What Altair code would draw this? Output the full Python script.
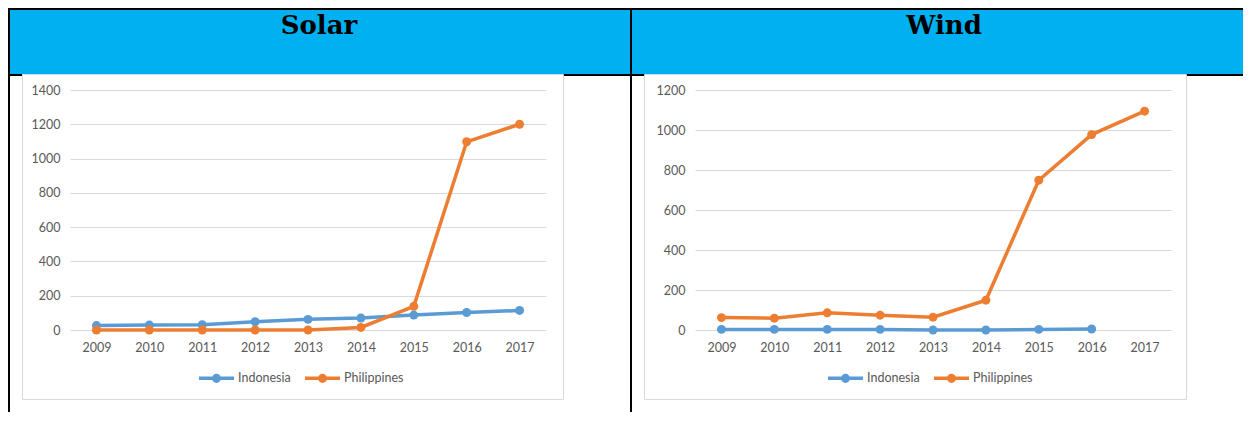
import altair as alt
import pandas as pd

# ---------------- data ----------------
years = ["2009", "2010", "2011", "2012", "2013", "2014", "2015", "2016", "2017"]
countries = ["Indonesia", "Philippines"]

solar_indonesia = [26, 29, 31, 48, 62, 70, 87, 102, 114]
solar_philippines = [0, 0, 0, 0, 0, 15, 138, 1098, 1200]

wind_years_indonesia = ["2009", "2010", "2011", "2012", "2013", "2014", "2015", "2016"]
wind_indonesia = [3, 3, 3, 3, 0, 0, 3, 5]
wind_philippines = [62, 59, 86, 74, 64, 149, 749, 977, 1094]

solar_ticks = [0, 200, 400, 600, 800, 1000, 1200, 1400]
wind_ticks = [0, 200, 400, 600, 800, 1000, 1200]

colors = ["#5B9BD5", "#ED7D31"]

solar_df = pd.DataFrame(
    {"year": years + years,
     "value": solar_indonesia + solar_philippines,
     "country": ["Indonesia"] * len(years) + ["Philippines"] * len(years)}
)
wind_df = pd.DataFrame(
    {"year": wind_years_indonesia + years,
     "value": wind_indonesia + wind_philippines,
     "country": ["Indonesia"] * len(wind_years_indonesia) + ["Philippines"] * len(years)}
)

# ---------------- layout constants ----------------
PW, PH = 476, 240
SPACING = 149
ORIGIN1 = (70, 90)
ORIGIN2 = (70 + PW + SPACING, 90)

FONT = "Lato"
TXT = "#595959"
GRID = "#D9D9D9"
HEADER = "#00B0F0"

# legend symbol: a stroked line with a dot (dot built from stroked circles)
LEG_PATH = ("M-1,0 H1 "
            "M-0.1,0 A0.1,0.1 0 1,1 0.1,0 A0.1,0.1 0 1,1 -0.1,0 "
            "M-0.16,0 A0.16,0.16 0 1,1 0.16,0 A0.16,0.16 0 1,1 -0.16,0")

one = alt.Data(values=[{"a": 1}])


def rect(origin, x1, x2, y1, y2, fill=None, stroke=None):
    ox, oy = origin
    kw = {}
    if fill is not None:
        kw["fill"] = fill
    else:
        kw["fillOpacity"] = 0
        kw["fill"] = "white"
    if stroke is not None:
        kw["stroke"] = stroke
        kw["strokeWidth"] = 1
    return alt.Chart(one).mark_rect(**kw).encode(
        x=alt.value(x1 - ox), x2=alt.value(x2 - ox),
        y=alt.value(y1 - oy), y2=alt.value(y2 - oy),
    )


def title(origin, cx, by, text):
    ox, oy = origin
    return alt.Chart(one).mark_text(
        font="DejaVu Serif", fontWeight="bold", fontSize=26,
        align="center", baseline="alphabetic", color="black",
    ).encode(x=alt.value(cx - ox), y=alt.value(by - oy), text=alt.value(text))


def panel(df, ticks, origin, legend_x, decorations):
    x = alt.X("year:O", title=None,
              scale=alt.Scale(type="point", padding=0.5, domain=years),
              axis=alt.Axis(labelAngle=0, ticks=False, tickSize=0, domain=False,
                            grid=False, labelFont=FONT, labelFontSize=12.5,
                            labelColor=TXT, labelPadding=11))
    y = alt.Y("value:Q", title=None,
              scale=alt.Scale(domain=[ticks[0], ticks[-1]], nice=False),
              axis=alt.Axis(values=ticks, format="d", ticks=False, tickSize=0,
                            domain=False, grid=True, gridColor=GRID, gridWidth=1,
                            labelFont=FONT, labelFontSize=12.5, labelColor=TXT,
                            labelPadding=10))
    cscale = alt.Scale(domain=countries, range=colors)
    leg = alt.Legend(orient="none", legendX=legend_x, legendY=268.5,
                     direction="horizontal", title=None,
                     symbolType=LEG_PATH, symbolSize=1225,
                     symbolStrokeWidth=3.5, symbolOpacity=1,
                     labelFont=FONT, labelFontSize=12.5, labelColor=TXT,
                     labelOffset=2, columnPadding=7, padding=0)
    base = alt.Chart(df)
    lines = base.mark_line(strokeWidth=3.5).encode(
        x=x, y=y, color=alt.Color("country:N", scale=cscale, legend=leg),
    )
    pts = base.mark_circle(size=80, opacity=1).encode(
        x=x, y=y, color=alt.Color("country:N", scale=cscale, legend=leg),
    )
    return alt.layer(*decorations, lines, pts).properties(width=PW, height=PH)


deco1 = [
    rect(ORIGIN1, 10, 630, 10, 74, fill=HEADER),
    rect(ORIGIN1, 8, 632, 8, 10, fill="black"),
    rect(ORIGIN1, 8, 10, 8, 412, fill="black"),
    rect(ORIGIN1, 630, 632, 8, 412, fill="black"),
    rect(ORIGIN1, 8, 22, 74, 76, fill="black"),
    rect(ORIGIN1, 563, 632, 74, 76, fill="black"),
    rect(ORIGIN1, 22.5, 563.5, 74.5, 399.5, stroke=GRID),
    title(ORIGIN1, 319, 34, "Solar"),
]
deco2 = [
    rect(ORIGIN2, 632, 1243, 10, 74, fill=HEADER),
    rect(ORIGIN2, 630, 1243, 8, 10, fill="black"),
    rect(ORIGIN2, 630, 645, 74, 76, fill="black"),
    rect(ORIGIN2, 1186, 1243, 74, 76, fill="black"),
    rect(ORIGIN2, 644.5, 1186.5, 74.5, 399.5, stroke=GRID),
    title(ORIGIN2, 944, 34, "Wind"),
]

p1 = panel(solar_df, solar_ticks, ORIGIN1, 127, deco1)
p2 = panel(wind_df, wind_ticks, ORIGIN2, 131, deco2)

chart = alt.hconcat(p1, p2, spacing=SPACING, bounds="flush").resolve_scale(
    color="independent"
).resolve_legend(color="independent").properties(
    padding=0, background="white"
).configure_view(strokeWidth=0)

chart.save("out.html", embed_options={"renderer": "svg", "actions": False})
